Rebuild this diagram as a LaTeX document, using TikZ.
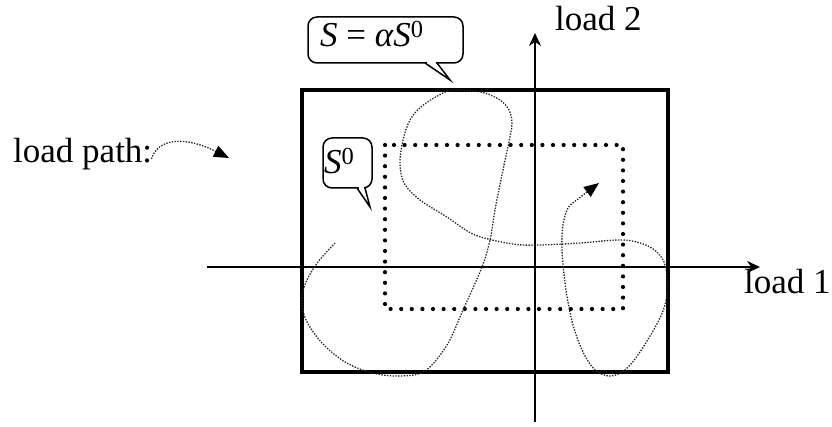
\documentclass[tikz,border=0pt]{standalone}
\usepackage{fontspec}
\setmainfont{Liberation Serif}
\usetikzlibrary{arrows.meta}
\begin{document}
\begin{tikzpicture}[x=1pt,y=-1pt,
  axis/.style={line width=2pt, -{Stealth[length=13pt,width=12pt]}},
  lbl/.style={font=\fontsize{35}{40}\selectfont, inner sep=0pt, anchor=base west},
  mth/.style={font=\fontsize{35}{40}\selectfont, inner sep=0pt, anchor=base west},
  bubble/.style={line width=1.5pt, rounded corners=9pt},
  tail/.style={line width=1.5pt, line join=miter},
  lpath/.style={line width=1.3pt, dash pattern=on 1.4pt off 1.4pt, black!85},
  ltip/.style={-{Triangle[length=15pt,width=12pt,color=black]}},
  dotbox/.style={line width=4.2pt, line cap=round, dash pattern=on 0pt off 10.6pt},
  outer/.style={line width=4.5pt},
]
\useasboundingbox (0,0) rectangle (832,427);

% outer square S
\draw[outer] (302,90) rectangle (668,372);
% inner dotted square S0
\draw[dotbox] (385,145) rectangle (623,309);

% axes
\coordinate (xs) at (207,267);
\coordinate (xe) at (760,267);
\coordinate (ys) at (535,422);
\coordinate (ye) at (535,33);
\draw[axis] (xs) -- (xe);
\draw[axis] (ys) -- (ye);
\node[lbl] (l1) at (744,294) {load 1};
\node[lbl] (l2) at (555,31) {load 2};

% legend
\node[lbl] (lp) at (13,163) {load path:};
\coordinate (lpe) at (229,158);
\draw[lpath, ltip] (lp.base east) ++(-1,-4) .. controls (158,138) and (185,136) .. (lpe);

% callout S = alpha S0
\draw[bubble] (308,17) rectangle (463,63);
\fill[white] (426.5,60) rectangle (435.5,66);
\draw[tail] (425,63) -- (450,80) -- (437,63);
\node[mth] (c1) at (320,47) {\itshape S\/ \upshape= \itshape αS\textsuperscript{\upshape 0}};

% callout S0
\draw[bubble] (323,138) rectangle (372,188);
\fill[white] (358.5,185) rectangle (363.5,191);
\draw[tail] (357,188) -- (370,207) -- (365,188);
\node[mth] (c2) at (324,174) {\itshape S\textsuperscript{\upshape 0}};

% load path
\draw[lpath, ltip] plot[smooth, tension=0.55] coordinates {
 (335,243) (318,262) (306,282) (302,300) (306,320) (322,343) (345,362)
 (372,373) (400,376) (425,371) (447,345) (463,310) (482,267) (490,240)
 (495,210) (503,170) (510,137) (512,123) (509,110) (500,100) (485,93)
 (473,91) (455,90) (443,93) (422,106) (410,120) (403,140) (400,163)
 (404,183) (420,200) (447,217) (475,235) (513,244) (540,245) (580,243)
 (623,240) (648,246) (662,258) (667,275) (667,295) (660,318) (640,352)
 (625,370) (610,376) (595,370) (583,352) (573,325) (566,290) (562,250)
 (563,225) (568,208) (578,199) (599,183)};
\end{tikzpicture}
\end{document}
